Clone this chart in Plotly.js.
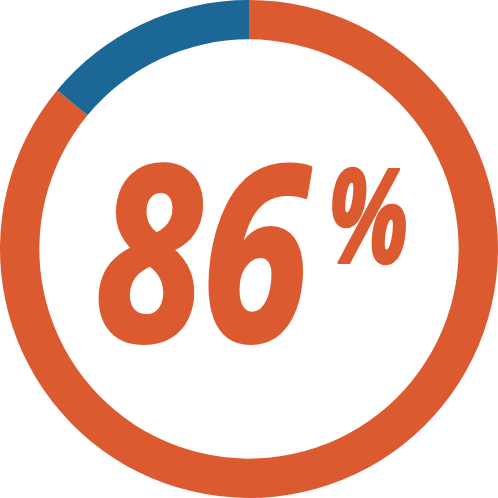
<!DOCTYPE html>
<html>
<head>
<meta charset="utf-8">
<script src="https://cdn.plot.ly/plotly-3.0.1.min.js"></script>
<style>
  html, body { margin: 0; padding: 0; background: #fff; }
  #chart { width: 498px; height: 498px; }
</style>
</head>
<body>
<div id="chart"></div>
<script>
var labels = ['Yes', 'No'];
var values = [86, 14];
var colors = ['#dc5a30', '#1b6896'];
var bigText = '86';
var signText = '%';

var trace = {
  type: 'pie',
  labels: labels,
  values: values,
  hole: 0.842,
  sort: false,
  direction: 'clockwise',
  rotation: 0,
  textinfo: 'none',
  hoverinfo: 'none',
  marker: { colors: colors, line: { width: 0 } },
  domain: { x: [0, 1], y: [0, 1] }
};

var layout = {
  width: 498,
  height: 498,
  margin: { l: 0, r: 0, t: 0, b: 0 },
  showlegend: false,
  paper_bgcolor: '#fff',
  annotations: [
    {
      text: bigText,
      x: 0.408, y: 0.504, xref: 'paper', yref: 'paper',
      xanchor: 'center', yanchor: 'middle', showarrow: false,
      font: { family: 'Open Sans', size: 242, color: '#dc5a30', weight: 'bold', style: 'italic' }
    },
    {
      text: signText,
      x: 0.739, y: 0.574, xref: 'paper', yref: 'paper',
      xanchor: 'center', yanchor: 'middle', showarrow: false,
      font: { family: 'Open Sans', size: 131, color: '#dc5a30', weight: 'bold', style: 'italic' }
    }
  ]
};

// the original face is a heavier condensed one: squeeze sideways, thicken a bit
var squeeze = [0.8, 0.72];
var thicken = [4, 2.5];

Plotly.newPlot('chart', [trace], layout, { staticPlot: true }).then(function () {
  var texts = document.querySelectorAll('#chart .annotation-text');
  texts.forEach(function (t, i) {
    var box = t.getBBox();
    var cx = box.x + box.width / 2;
    var s = squeeze[i] || 1;
    var old = t.getAttribute('transform') || '';
    t.setAttribute('transform', 'translate(' + cx + ',0) scale(' + s + ',1) translate(' + (-cx) + ',0) ' + old);
    t.style.stroke = '#dc5a30';
    t.style.strokeWidth = thicken[i] + 'px';
    t.style.strokeLinejoin = 'round';
  });
});
</script>
</body>
</html>
